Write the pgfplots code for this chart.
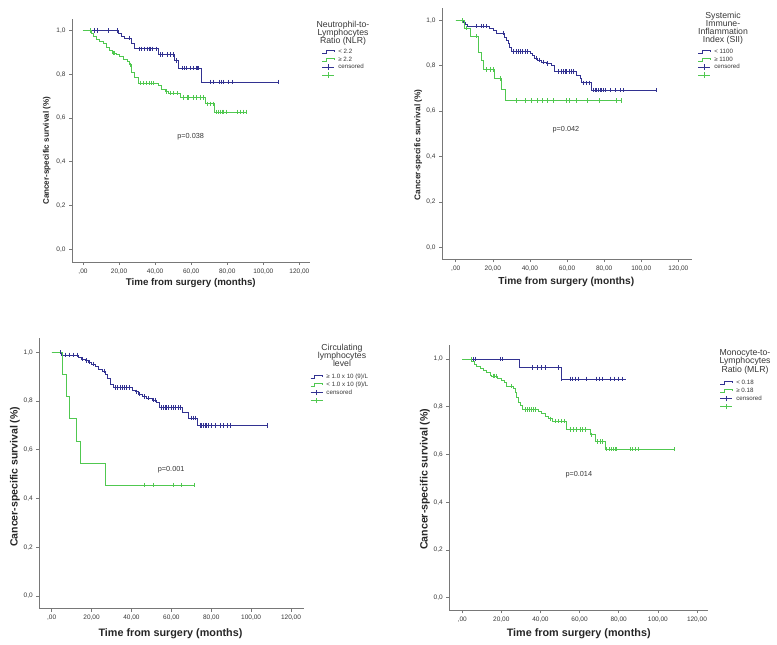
\documentclass[border=0pt]{standalone}
\usepackage{pgfplots}
\pgfplotsset{compat=1.18}
\usepackage{fontspec}
\setmainfont{Liberation Sans}

\definecolor{kmblue}{RGB}{50,50,145}
\definecolor{kmgreen}{RGB}{80,200,80}
\definecolor{axgray}{RGB}{120,120,120}
\definecolor{txtgray}{RGB}{55,55,55}

\pgfplotsset{
  km/.style={
    scale only axis, anchor=south west,
    axis x line*=bottom, axis y line*=left,
    axis line style={-,axgray,line width=0.6pt},
    x axis line style={-}, y axis line style={-},
    tick align=outside, major tick length=3pt,
    tick style={axgray,line width=0.6pt},
    xtick={0,20,40,60,80,100,120},
    xticklabels={{,00},{20,00},{40,00},{60,00},{80,00},{100,00},{120,00}},
    ytick={0,0.2,0.4,0.6,0.8,1},
    yticklabels={{0,0},{0,2},{0,4},{0,6},{0,8},{1,0}},
    ticklabel style={font=\fontsize{6.5}{7}\selectfont, text=txtgray},
    clip=false,
    legend cell align=left,
    legend style={draw=none, fill=none, anchor=north west,
      font=\fontsize{6.2}{7}\selectfont, inner sep=0pt, row sep=0pt,
      /tikz/every odd column/.append style={column sep=3pt},
      nodes={inner sep=0.6pt, text height=5pt, text depth=1.6pt, text=txtgray}},
  },
  bstep/.style={const plot, kmblue, line width=0.6pt, no marks,
    legend image code/.code={\draw[kmblue,line width=0.6pt] (0pt,-1.5pt) -- (4pt,-1.5pt) -- (4pt,1.5pt) -- (12pt,1.5pt) -- (12pt,-0.3pt);}},
  gstep/.style={const plot, kmgreen, line width=0.6pt, no marks,
    legend image code/.code={\draw[kmgreen,line width=0.6pt] (0pt,-1.5pt) -- (4pt,-1.5pt) -- (4pt,1.5pt) -- (12pt,1.5pt) -- (12pt,-0.3pt);}},
  bcens/.style={only marks, mark=|, mark size=2.2pt, kmblue, mark options={line width=0.6pt},
    legend image code/.code={\draw[kmblue,line width=0.6pt] (0pt,0pt) -- (12pt,0pt) (6pt,-2.8pt) -- (6pt,2.8pt);}},
  gcens/.style={only marks, mark=|, mark size=2.2pt, kmgreen, mark options={line width=0.6pt},
    legend image code/.code={\draw[kmgreen,line width=0.6pt] (0pt,0pt) -- (12pt,0pt) (6pt,-2.8pt) -- (6pt,2.8pt);}},
}

\begin{document}
\begin{tikzpicture}
\path[use as bounding box] (0pt,0pt) rectangle (777pt,-645pt);

% ---------------- panel 1: NLR
\begin{axis}[km, at={(72pt,-262pt)}, width=238pt, height=243pt,
  xmin=-6.1, xmax=125.9, ymin=-0.058, ymax=1.052,
  legend style={at={(1.050,0.883)}}]
\addplot[bstep] coordinates {(0,1)(19.6,0.988)(21.5,0.974)(23,0.966)(26.9,0.943)(28.7,0.916)(41.7,0.889)(50.9,0.863)(52.8,0.828)(65.4,0.764)(108.2,0.764)};
\addlegendentry{< 2.2}
\addplot[gstep] coordinates {(0,1)(4.6,0.985)(5.5,0.974)(7.4,0.959)(9.3,0.95)(11.1,0.939)(12.9,0.924)(14.8,0.909)(16.1,0.896)(18.5,0.889)(20.4,0.881)(22.2,0.868)(24.6,0.858)(25.9,0.843)(26.8,0.81)(28.7,0.787)(30.6,0.759)(41.7,0.749)(43.5,0.733)(45.4,0.721)(47.2,0.714)(53.7,0.693)(67.8,0.665)(72.9,0.627)(90.6,0.627)};
\addlegendentry{≥ 2.2}
\addplot[bcens] coordinates {(6.5,1)(7.8,1)(14.2,1)(19,1)(25.5,0.966)(31,0.916)(32.5,0.916)(34,0.916)(35.5,0.916)(36.5,0.916)(37.5,0.916)(38.5,0.916)(40.5,0.916)(43,0.889)(44,0.889)(47,0.889)(48.5,0.889)(50,0.889)(51.5,0.863)(54.8,0.828)(56.1,0.828)(57.2,0.828)(59.4,0.828)(60.9,0.828)(62.8,0.828)(63.5,0.828)(64.1,0.828)(70.6,0.764)(72.4,0.764)(75.7,0.764)(76.5,0.764)(77.6,0.764)(80.7,0.764)(82.6,0.764)(108.2,0.764)};
\addlegendentry{censored}
\addplot[gcens] coordinates {(4.3,1)(16.8,0.896)(17.5,0.896)(26.2,0.843)(32,0.759)(33.5,0.759)(35,0.759)(36.5,0.759)(38,0.759)(39,0.759)(46,0.721)(48.5,0.714)(50,0.714)(52.5,0.714)(55.7,0.693)(57.6,0.693)(58.5,0.693)(61.3,0.693)(62.8,0.693)(65,0.693)(66.5,0.693)(69,0.665)(70.6,0.665)(72,0.665)(73.9,0.627)(75.2,0.627)(76.1,0.627)(77,0.627)(77.9,0.627)(79.4,0.627)(85.7,0.627)(87.2,0.627)(88.7,0.627)(90.6,0.627)};
\addlegendentry{}
\node[font=\fontsize{7.3}{8}\selectfont, text=txtgray] at (axis cs:59.7,0.514) {p=0.038};
\end{axis}

% ---------------- panel 2: SII
\begin{axis}[km, at={(442pt,-259.3pt)}, width=249.7pt, height=251pt,
  xmin=-7.4, xmax=127.2, ymin=-0.053, ymax=1.053,
  legend style={at={(1.025,0.844)}}]
\addplot[bstep] coordinates {(0,1)(4.3,0.993)(5.2,0.981)(6.5,0.975)(18.1,0.967)(20.3,0.956)(22.1,0.945)(26.4,0.926)(27.3,0.912)(28.2,0.897)(29.1,0.882)(30,0.863)(40,0.853)(41.4,0.846)(42.6,0.834)(43.9,0.826)(46.3,0.816)(49,0.809)(51.7,0.802)(53.4,0.775)(65.1,0.758)(66.9,0.746)(67.8,0.725)(73.2,0.692)(108,0.692)};
\addlegendentry{< 1100}
\addplot[gstep] coordinates {(0,1)(4.5,0.966)(8.1,0.931)(12.2,0.86)(14,0.822)(14.9,0.783)(20.8,0.743)(24.8,0.696)(26.6,0.646)(89.5,0.646)};
\addlegendentry{≥ 1100}
\addplot[bcens] coordinates {(3.8,1)(11.3,0.975)(14,0.975)(14.9,0.975)(16.3,0.975)(25.7,0.945)(31.1,0.863)(32.5,0.863)(33.7,0.863)(35,0.863)(36.1,0.863)(37.4,0.863)(38.6,0.863)(43.2,0.834)(45.3,0.826)(47.1,0.816)(49.3,0.809)(55.3,0.775)(57.1,0.775)(58,0.775)(58.9,0.775)(59.8,0.775)(61.1,0.775)(62.5,0.775)(63.4,0.775)(68.8,0.725)(70.6,0.725)(71.8,0.725)(74.2,0.692)(75.1,0.692)(76,0.692)(76.9,0.692)(77.8,0.692)(78.7,0.692)(79.6,0.692)(80.4,0.692)(83.1,0.692)(85.8,0.692)(88.5,0.692)(90.3,0.692)(108,0.692)};
\addlegendentry{censored}
\addplot[gcens] coordinates {(3.8,1)(5.5,0.966)(11.3,0.931)(16.7,0.783)(18.5,0.783)(20.3,0.783)(23.9,0.743)(32.9,0.646)(37.4,0.646)(41,0.646)(44,0.646)(46.4,0.646)(49.1,0.646)(52.5,0.646)(59.8,0.646)(61.1,0.646)(65.2,0.646)(71,0.646)(77.2,0.646)(86.6,0.646)(89.5,0.646)};
\addlegendentry{}
\node[font=\fontsize{7.3}{8}\selectfont, text=txtgray] at (axis cs:59.4,0.517) {p=0.042};
\end{axis}

% ---------------- panel 3: lymphocytes
\begin{axis}[km, at={(39.3pt,-608.7pt)}, width=264.7pt, height=270.4pt,
  xmin=-6.2, xmax=126.5, ymin=-0.052, ymax=1.057,
  legend style={at={(1.023,0.872)}}]
\addplot[bstep] coordinates {(0,1)(4.9,0.989)(13.2,0.978)(15,0.972)(16.7,0.966)(18.4,0.959)(20.1,0.952)(21.7,0.941)(23.4,0.931)(25.4,0.923)(27.1,0.91)(28.1,0.893)(29.2,0.869)(30.9,0.855)(40.4,0.845)(41.8,0.838)(43.4,0.828)(45.4,0.818)(47.6,0.811)(50.2,0.804)(52.7,0.795)(53.8,0.774)(65.3,0.754)(68.5,0.73)(73,0.70)(108.3,0.70)};
\addlegendentry{≥ 1.0 x 10 (9)/L}
\addplot[gstep] coordinates {(0,1)(5.5,0.909)(7.5,0.818)(8.7,0.727)(12.2,0.636)(14.2,0.545)(27.1,0.455)(71.4,0.455)};
\addlegendentry{< 1.0 x 10 (9)/L}
\addplot[bcens] coordinates {(4.2,1)(6.7,0.989)(8.7,0.989)(10.8,0.989)(13,0.989)(15.5,0.972)(17.5,0.966)(19,0.959)(21,0.952)(26.5,0.923)(31.7,0.855)(33.1,0.855)(34.3,0.855)(35.4,0.855)(36.4,0.855)(37.6,0.855)(38.8,0.855)(42.5,0.838)(44,0.828)(46.5,0.818)(48.5,0.811)(51,0.804)(52,0.804)(55.2,0.774)(56,0.774)(56.8,0.774)(57.7,0.774)(58.5,0.774)(59.8,0.774)(61,0.774)(62.2,0.774)(63.5,0.774)(64.3,0.774)(69.9,0.73)(71,0.73)(72.2,0.73)(74.4,0.70)(75.2,0.70)(76,0.70)(76.9,0.70)(77.7,0.70)(78.5,0.70)(80.2,0.70)(81.9,0.70)(84.4,0.70)(86.1,0.70)(87.8,0.70)(89.5,0.70)(108.3,0.70)};
\addlegendentry{censored}
\addplot[gcens] coordinates {(46.4,0.455)(51,0.455)(61,0.455)(65.2,0.455)(71.4,0.455)};
\addlegendentry{}
\node[font=\fontsize{7.3}{8}\selectfont, text=txtgray] at (axis cs:59.9,0.517) {p=0.001};
\end{axis}

% ---------------- panel 4: MLR
\begin{axis}[km, at={(449.3pt,-610.3pt)}, width=259pt, height=265.3pt,
  xmin=-6.6, xmax=125.8, ymin=-0.053, ymax=1.059,
  legend style={at={(1.045,0.872)}}]
\addplot[bstep] coordinates {(0,1)(29,0.965)(50.5,0.917)(83.7,0.917)};
\addlegendentry{< 0.18}
\addplot[gstep] coordinates {(0,1)(4.8,0.99)(6.1,0.98)(7.4,0.971)(9,0.962)(10.7,0.953)(12.5,0.946)(14.2,0.934)(15,0.929)(18.1,0.92)(19.8,0.911)(21.5,0.901)(22.7,0.886)(26.1,0.876)(27.3,0.859)(27.8,0.841)(28.6,0.82)(29.5,0.806)(30.9,0.789)(38.9,0.781)(40.6,0.771)(42.3,0.761)(44,0.75)(46,0.74)(53.4,0.705)(65.3,0.683)(67.8,0.655)(73,0.622)(108.2,0.622)};
\addlegendentry{≥ 0.18}
\addplot[bcens] coordinates {(5.5,1)(6.5,1)(19.3,1)(20.6,1)(35.8,0.965)(38.3,0.965)(40.2,0.965)(42.3,0.965)(49.1,0.965)(50.8,0.917)(55.1,0.917)(56.4,0.917)(57.6,0.917)(59.3,0.917)(63.2,0.917)(68.7,0.917)(70,0.917)(71.6,0.917)(75.5,0.917)(77.6,0.917)(79.8,0.917)(82,0.917)};
\addlegendentry{censored}
\addplot[gcens] coordinates {(4.7,1)(15.8,0.929)(16.5,0.929)(17.3,0.929)(25,0.886)(32,0.789)(33.2,0.789)(34.3,0.789)(35.5,0.789)(36.5,0.789)(37.5,0.789)(45,0.75)(47.5,0.74)(49,0.74)(50.5,0.74)(52,0.74)(55.1,0.705)(56.7,0.705)(58.1,0.705)(60.5,0.705)(61.6,0.705)(62.7,0.705)(66,0.683)(69,0.655)(70.4,0.655)(71.8,0.655)(73.8,0.622)(75.2,0.622)(76.4,0.622)(77.2,0.622)(78.1,0.622)(78.9,0.622)(85.7,0.622)(87.1,0.622)(88.3,0.622)(90,0.622)(108.2,0.622)};
\addlegendentry{}
\node[font=\fontsize{7.3}{8}\selectfont, text=txtgray] at (axis cs:59.6,0.517) {p=0.014};
\end{axis}

% ---------------- axis titles and legend titles
\tikzset{xl/.style={font=\bfseries\fontsize{#1}{#1}\selectfont, text=black!85},
         lt/.style={font=\fontsize{8.7}{8.3}\selectfont, align=center, text=txtgray}}
\node[xl=9.75] at (190.8pt,-283.3pt) {Time from surgery (months)};
\node[xl=8.1, rotate=90] at (46.7pt,-150.8pt) {Cancer-specific survival (\%)};
\node[xl=10.2] at (566.3pt,-281.7pt) {Time from surgery (months)};
\node[xl=8.3, rotate=90] at (418.3pt,-144.7pt) {Cancer-specific survival (\%)};
\node[xl=10.8] at (170.5pt,-633.3pt) {Time from surgery (months)};
\node[xl=10.5, rotate=90] at (15pt,-476.7pt) {Cancer-specific survival (\%)};
\node[xl=10.8] at (578.7pt,-633.3pt) {Time from surgery (months)};
\node[xl=10.6, rotate=90] at (425pt,-479.2pt) {Cancer-specific survival (\%)};

\node[lt] at (343pt,-33.3pt) {Neutrophil-to-\\Lymphocytes\\Ratio (NLR)};
\node[lt] at (723pt,-28.2pt) {Systemic\\Immune-\\Inflammation\\Index (SII)};
\node[lt] at (342pt,-355.5pt) {Circulating\\lymphocytes\\level};
\node[lt] at (745pt,-361.7pt) {Monocyte-to-\\Lymphocytes\\Ratio (MLR)};
\end{tikzpicture}
\end{document}
